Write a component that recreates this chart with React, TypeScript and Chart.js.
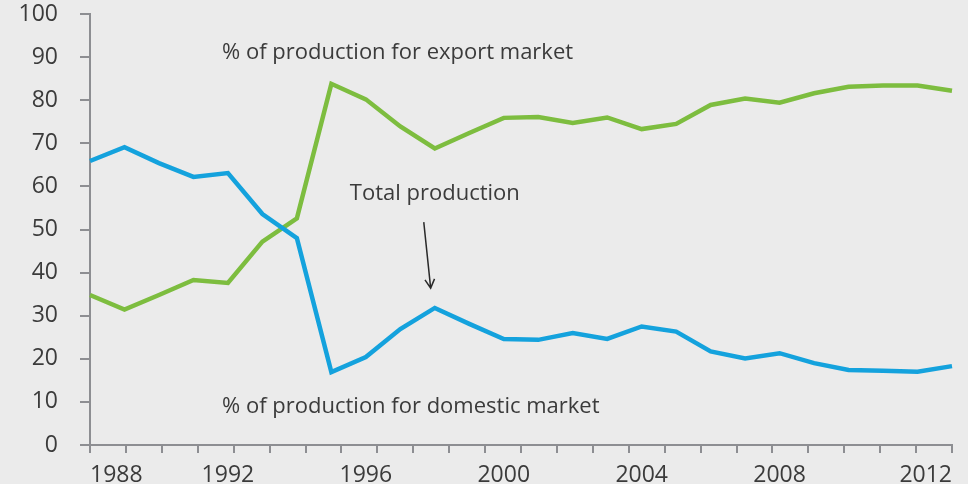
import React, { useEffect, useRef } from 'react';
import { Chart, registerables } from 'chart.js';

Chart.register(...registerables);

// Point labels (one per data point; blanks are unlabeled points)
const pointLabels = ['1988', '', '', '', '1992', '', '', '', '1996', '', '', '', '2000', '', '', '', '2004', '', '', '', '2008', '', '', '', '', '2012'];
// % of production for domestic market
const domesticShare = [65.9, 69.1, 65.4, 62.2, 63.1, 53.6, 48.0, 16.9, 20.4, 26.9, 31.8, 28.1, 24.6, 24.4, 26.0, 24.6, 27.5, 26.3, 21.7, 20.1, 21.3, 19.0, 17.4, 17.2, 17.0, 18.3];
// % of production for export market
const exportShare = [34.8, 31.4, 34.8, 38.3, 37.6, 47.2, 52.6, 83.8, 80.2, 73.9, 68.8, 72.4, 75.9, 76.1, 74.7, 76.0, 73.3, 74.5, 78.9, 80.4, 79.4, 81.6, 83.1, 83.4, 83.4, 82.2];
// yearly tick marks along the x axis: 1988..2012
const yearTickFirst = 1988;
const yearTickLast = 2012;

// Text annotations (x in point-index units, y in % units)
const annotations = [
  { text: '% of production for export market', x: 3.83, y: 91, align: 'left' },
  { text: 'Total production', x: 10, y: 58.2, align: 'center' },
  { text: '% of production for domestic market', x: 3.83, y: 8.8, align: 'left' },
];
const arrowFrom = { x: 9.68, y: 51.7 };
const arrowTo = { x: 9.88, y: 36.4 };

const AXIS = '#8d8e92';
const TEXT = '#3b3b3b';
const BLUE = '#14a2dd';
const GREEN = '#7dbd3f';
const FONT = '"Open Sans", "Noto Sans", sans-serif';

const annotationPlugin = {
  id: 'annots',
  afterDatasetsDraw(chart: any) {
    const { ctx } = chart;
    const xs = chart.scales.x;
    const ys = chart.scales.y;
    const px = (v: number) => xs.left + (v / (pointLabels.length - 1)) * (xs.right - xs.left);
    ctx.save();
    ctx.fillStyle = TEXT;
    ctx.font = `22px ${FONT}`;
    ctx.textBaseline = 'middle';
    for (const a of annotations) {
      ctx.textAlign = a.align;
      ctx.fillText(a.text, px(a.x), ys.getPixelForValue(a.y));
    }
    const x1 = px(arrowFrom.x), y1 = ys.getPixelForValue(arrowFrom.y);
    const x2 = px(arrowTo.x), y2 = ys.getPixelForValue(arrowTo.y);
    ctx.strokeStyle = '#2a2a2a';
    ctx.lineWidth = 1.5;
    ctx.beginPath();
    ctx.moveTo(x1, y1);
    ctx.lineTo(x2, y2);
    const ang = Math.atan2(y2 - y1, x2 - x1);
    const h = 10;
    ctx.moveTo(x2 + h * Math.cos(ang + Math.PI - 0.5), y2 + h * Math.sin(ang + Math.PI - 0.5));
    ctx.lineTo(x2, y2);
    ctx.lineTo(x2 + h * Math.cos(ang + Math.PI + 0.5), y2 + h * Math.sin(ang + Math.PI + 0.5));
    ctx.stroke();
    ctx.restore();
  },
};

export default function App() {
  const ref = useRef<HTMLCanvasElement>(null);
  useEffect(() => {
    document.body.style.margin = '0';
    document.body.style.background = '#ebebeb';
    const chart = new Chart(ref.current!, {
      type: 'line',
      data: {
        labels: pointLabels,
        datasets: [
          {
            label: 'Domestic',
            data: domesticShare,
            borderColor: BLUE,
            borderWidth: 4.5,
            pointRadius: 0,
            tension: 0,
            xAxisID: 'x',
          },
          {
            label: 'Export',
            data: exportShare,
            borderColor: GREEN,
            borderWidth: 4.5,
            pointRadius: 0,
            tension: 0,
            xAxisID: 'x',
          },
        ],
      },
      options: {
        animation: false,
        responsive: false,
        devicePixelRatio: 1,
        layout: { padding: { top: 14, right: 16, left: 0, bottom: 0 } },
        plugins: { legend: { display: false }, tooltip: { enabled: false } },
        scales: {
          xt: {
            type: 'linear',
            position: 'bottom',
            weight: 0,
            min: 0,
            max: yearTickLast - yearTickFirst,
            ticks: { stepSize: 1, display: false },
            grid: { drawOnChartArea: false, drawTicks: true, tickLength: 8, color: AXIS, lineWidth: 2 },
            border: { display: true, color: AXIS, width: 2 },
            afterFit: (s: any) => { s.height = 0; s.paddingLeft = 0; s.paddingRight = 0; },
          },
          x: {
            type: 'category',
            position: 'bottom',
            weight: 1,
            offset: false,
            grid: { display: false },
            border: { display: false },
            ticks: {
              autoSkip: false,
              maxRotation: 0,
              minRotation: 0,
              align: 'inner',
              padding: 9,
              color: TEXT,
              font: { family: FONT, size: 23 },
            },
            afterFit: (s: any) => { s.height = 39; s.paddingLeft = 0; s.paddingRight = 0; },
          },
          y: {
            min: 0,
            max: 100,
            ticks: { stepSize: 10, padding: 22, color: TEXT, font: { family: FONT, size: 23 } },
            grid: { drawOnChartArea: false, drawTicks: true, tickLength: 10, color: AXIS, lineWidth: 2 },
            border: { display: true, color: AXIS, width: 2 },
            afterFit: (s: any) => { s.width = 90; s.paddingTop = 0; s.paddingBottom = 0; },
          },
        },
      },
      plugins: [annotationPlugin],
    });
    return () => chart.destroy();
  }, []);
  return (
    <div style={{ width: 968, height: 484, background: '#ebebeb' }}>
      <canvas ref={ref} width={968} height={484} />
    </div>
  );
}
